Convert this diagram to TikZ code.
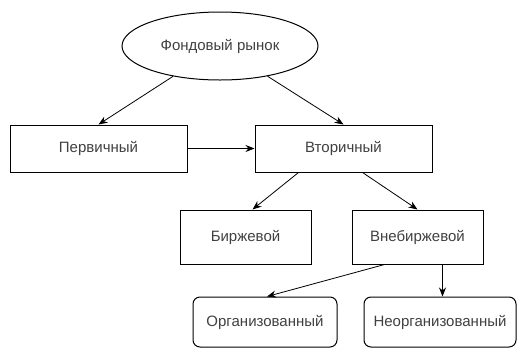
\documentclass[tikz,border=0pt]{standalone}
\usepackage{fontspec}
\setmainfont{Liberation Sans}
\usetikzlibrary{shapes,arrows.meta,positioning}

\begin{document}
\begin{tikzpicture}[x=1pt, y=-1pt,
    every node/.style={font=\fontsize{15}{17}\selectfont, text=black!75},
    box/.style={rectangle, draw, line width=1pt, inner sep=0pt, minimum width=177pt, minimum height=47pt},
    smallbox/.style={box, minimum width=131pt, minimum height=54pt},
    roundbox/.style={box, rounded corners=7pt, minimum height=50pt},
    link/.style={-{Stealth[length=9pt,width=7pt]}, line width=0.8pt}]
    \useasboundingbox (0,0) rectangle (520,349);
    \node (fond) [ellipse, draw, line width=1pt, minimum width=196pt, minimum height=68pt, inner sep=0pt] at (220,46) {Фондовый рынок};
    \node (perv) [box] at (98.5,148.5) {Первичный};
    \node (vtor) [box] at (343.5,148.5) {Вторичный};
    \node (birzh) [smallbox] at (245.5,237) {Биржевой};
    \node (vneb) [smallbox] at (417.5,237) {Внебиржевой};
    \node (org) [roundbox, minimum width=144pt] at (265,322) {Организованный};
    \node (neorg) [roundbox, minimum width=152pt] at (440,322) {Неорганизованный};

    \draw[link] (fond) -- (perv.north);
    \draw[link] (fond) -- (vtor.north);
    \draw[link] (perv) -- (vtor);
    \draw[link] ([xshift=-45pt]vtor.south) -- ([xshift=7pt]birzh.north);
    \draw[link] ([xshift=19pt]vtor.south) -- (vneb.north);
    \draw[link] ([xshift=-33pt]vneb.south) -- ([xshift=2pt]org.north);
    \draw[link] ([xshift=25pt]vneb.south) -- ([xshift=25pt]vneb.south |- neorg.north);
\end{tikzpicture}
\end{document}
